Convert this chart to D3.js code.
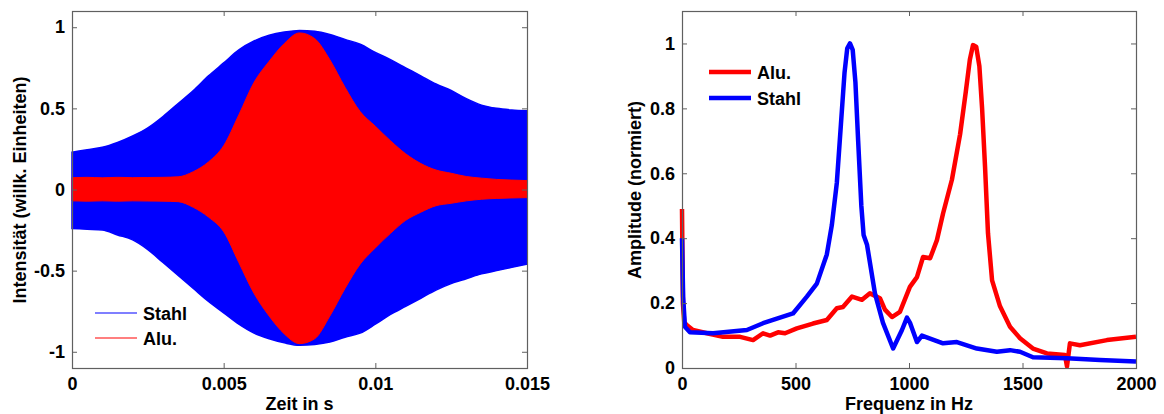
<!DOCTYPE html>
<html>
<head>
<meta charset="utf-8">
<script src="https://cdn.jsdelivr.net/npm/d3@7"></script>
<style>
  body { margin: 0; background: #fff; }
  svg text { font-family: "Liberation Sans", Arial, sans-serif; font-weight: bold; }
</style>
</head>
<body>
<div id="chart"></div>
<script>
// --- left: signal envelopes (time in s, upper / lower amplitude), read every 0.5 ms
var envT       = [0, 0.0005, 0.001, 0.0015, 0.002, 0.0025, 0.003, 0.0035, 0.004, 0.0045, 0.005, 0.0055, 0.006, 0.0065, 0.007, 0.0075, 0.008, 0.0085, 0.009, 0.0095, 0.01, 0.0105, 0.011, 0.0115, 0.012, 0.0125, 0.013, 0.0135, 0.014, 0.0145, 0.015];
var stahlUpper = [0.23, 0.245, 0.26, 0.29, 0.33, 0.38, 0.45, 0.53, 0.61, 0.70, 0.78, 0.86, 0.915, 0.95, 0.97, 0.98, 0.975, 0.955, 0.925, 0.895, 0.845, 0.80, 0.75, 0.70, 0.65, 0.61, 0.56, 0.52, 0.50, 0.49, 0.485];
var stahlLower = [-0.24, -0.245, -0.25, -0.28, -0.31, -0.37, -0.45, -0.53, -0.61, -0.69, -0.76, -0.83, -0.885, -0.92, -0.945, -0.96, -0.955, -0.94, -0.91, -0.885, -0.83, -0.77, -0.72, -0.67, -0.62, -0.58, -0.55, -0.52, -0.50, -0.48, -0.46];
var aluUpper   = [0.073, 0.075, 0.072, 0.075, 0.073, 0.074, 0.075, 0.078, 0.11, 0.17, 0.27, 0.46, 0.66, 0.79, 0.90, 0.965, 0.93, 0.80, 0.63, 0.48, 0.39, 0.30, 0.22, 0.16, 0.12, 0.10, 0.08, 0.07, 0.062, 0.058, 0.055];
var aluLower   = [-0.07, -0.072, -0.07, -0.072, -0.07, -0.071, -0.072, -0.075, -0.11, -0.17, -0.26, -0.45, -0.64, -0.78, -0.89, -0.95, -0.92, -0.78, -0.61, -0.46, -0.36, -0.27, -0.19, -0.14, -0.10, -0.085, -0.07, -0.06, -0.055, -0.052, -0.05];

// --- right: spectra (Hz, normalised amplitude)
var aluF   = [0, 4, 10, 22, 48, 110, 181, 256, 313, 357, 388, 423, 454, 506, 577, 638, 682, 709, 749, 793, 828, 872, 894, 925, 960, 1004, 1035, 1062, 1093, 1123, 1150, 1189, 1225, 1250, 1268, 1282, 1296, 1310, 1322, 1335, 1348, 1366, 1401, 1445, 1489, 1546, 1608, 1687, 1696, 1709, 1753, 1872, 2000];
var aluA   = [0.49, 0.2, 0.14, 0.132, 0.117, 0.107, 0.096, 0.096, 0.086, 0.107, 0.10, 0.11, 0.107, 0.122, 0.137, 0.148, 0.184, 0.188, 0.22, 0.21, 0.23, 0.215, 0.18, 0.157, 0.173, 0.25, 0.28, 0.342, 0.338, 0.394, 0.476, 0.58, 0.72, 0.85, 0.95, 0.995, 0.99, 0.93, 0.80, 0.62, 0.415, 0.27, 0.19, 0.127, 0.092, 0.06, 0.045, 0.04, 0.005, 0.076, 0.07, 0.086, 0.096];
var stahlF = [0, 5, 13, 35, 137, 286, 357, 489, 550, 594, 638, 660, 682, 700, 716, 728, 740, 752, 764, 776, 790, 800, 815, 850, 885, 930, 969, 991, 1004, 1035, 1057, 1150, 1211, 1299, 1387, 1445, 1489, 1546, 1696, 1841, 2000];
var stahlA = [0.40, 0.22, 0.127, 0.11, 0.107, 0.117, 0.138, 0.168, 0.22, 0.26, 0.35, 0.44, 0.57, 0.75, 0.91, 0.985, 1.0, 0.98, 0.88, 0.70, 0.50, 0.41, 0.38, 0.23, 0.14, 0.06, 0.117, 0.155, 0.14, 0.08, 0.10, 0.076, 0.08, 0.06, 0.05, 0.055, 0.05, 0.033, 0.03, 0.025, 0.02];

var leftXTicks  = [0, 0.005, 0.01, 0.015];
var leftXLabels = ['0', '0.005', '0.01', '0.015'];
var leftYTicks  = [-1, -0.5, 0, 0.5, 1];
var leftYLabels = ['-1', '-0.5', '0', '0.5', '1'];
var rightXTicks = [0, 500, 1000, 1500, 2000];
var rightYTicks = [0, 0.2, 0.4, 0.6, 0.8, 1];
var rightYLabels = ['0', '0.2', '0.4', '0.6', '0.8', '1'];

var RED = '#ff0000', BLUE = '#0000ff', AXIS = '#606060';

var svg = d3.select('#chart').append('svg')
    .attr('width', 1164)
    .attr('height', 414);

function zip3(t, u, l) {
    return t.map(function (d, i) { return { t: d, u: u[i], l: l[i] }; });
}
function zip2(x, y) {
    return x.map(function (d, i) { return { x: d, y: y[i] }; });
}

// draw a MATLAB-like box with inward ticks on all four sides
function box(g, x, y, xTicks, xLabels, yTicks, yLabels) {
    var x0 = x.range()[0], x1 = x.range()[1], y0 = y.range()[0], y1 = y.range()[1];
    var fx = function (d) { return xLabels[xTicks.indexOf(d)]; };
    var fy = function (d) { return yLabels[yTicks.indexOf(d)]; };

    var axes = [
        g.append('g').attr('transform', 'translate(0,' + y0 + ')')
            .call(d3.axisBottom(x).tickValues(xTicks).tickFormat(fx).tickSizeInner(-5).tickSizeOuter(0).tickPadding(9)),
        g.append('g').attr('transform', 'translate(' + x0 + ',0)')
            .call(d3.axisLeft(y).tickValues(yTicks).tickFormat(fy).tickSizeInner(-5).tickSizeOuter(0).tickPadding(7)),
        g.append('g').attr('transform', 'translate(0,' + y1 + ')')
            .call(d3.axisTop(x).tickValues(xTicks).tickFormat('').tickSizeInner(-5).tickSizeOuter(0)),
        g.append('g').attr('transform', 'translate(' + x1 + ',0)')
            .call(d3.axisRight(y).tickValues(yTicks).tickFormat('').tickSizeInner(-5).tickSizeOuter(0))
    ];
    axes.forEach(function (a) {
        a.select('.domain').remove();
        a.selectAll('line').attr('stroke', AXIS);
        a.selectAll('text').attr('fill', '#000').style('font-size', '18px');
    });
    g.append('rect')
        .attr('x', x0 + 0.5).attr('y', y1 + 0.5)
        .attr('width', x1 - x0).attr('height', y0 - y1)
        .attr('fill', 'none').attr('stroke', AXIS).attr('stroke-width', 1.2);
}

// ---------- left chart
var gl = svg.append('g');
var xl = d3.scaleLinear().domain([0, 0.015]).range([72, 527]);
var yl = d3.scaleLinear().domain([-1.1, 1.1]).range([368, 11]);

var band = d3.area()
    .x(function (d) { return xl(d.t); })
    .y0(function (d) { return yl(d.l); })
    .y1(function (d) { return yl(d.u); })
    .curve(d3.curveMonotoneX);

gl.append('path').datum(zip3(envT, stahlUpper, stahlLower))
    .attr('d', band).attr('fill', BLUE).attr('stroke', BLUE).attr('stroke-width', 1.5);
gl.append('path').datum(zip3(envT, aluUpper, aluLower))
    .attr('d', band).attr('fill', RED).attr('stroke', RED).attr('stroke-width', 1);

box(gl, xl, yl, leftXTicks, leftXLabels, leftYTicks, leftYLabels);

var legL = [{ name: 'Stahl', c: BLUE }, { name: 'Alu.', c: RED }];
legL.forEach(function (d, i) {
    var yy = 313 + i * 25;
    gl.append('line').attr('x1', 95).attr('x2', 137).attr('y1', yy).attr('y2', yy)
        .attr('stroke', d.c).attr('stroke-width', 1.2);
    gl.append('text').attr('x', 143).attr('y', yy + 6.5).style('font-size', '18px').text(d.name);
});

gl.append('text').attr('x', 299.5).attr('y', 410).attr('text-anchor', 'middle')
    .style('font-size', '18px').text('Zeit in s');
gl.append('text').attr('transform', 'translate(26,190) rotate(-90)').attr('text-anchor', 'middle')
    .style('font-size', '18px').text('Intensität (willk. Einheiten)');

// ---------- right chart
var gr = svg.append('g');
var xr = d3.scaleLinear().domain([0, 2000]).range([682, 1136]);
var yr = d3.scaleLinear().domain([0, 1.1]).range([368, 11]);

var line = d3.line()
    .x(function (d) { return xr(d.x); })
    .y(function (d) { return yr(d.y); });

gr.append('path').datum(zip2(aluF, aluA))
    .attr('d', line).attr('fill', 'none').attr('stroke', RED).attr('stroke-width', 4.5).attr('stroke-linejoin', 'round');
gr.append('path').datum(zip2(stahlF, stahlA))
    .attr('d', line).attr('fill', 'none').attr('stroke', BLUE).attr('stroke-width', 4.5).attr('stroke-linejoin', 'round');

box(gr, xr, yr, rightXTicks, rightXTicks.map(String), rightYTicks, rightYLabels);

var legR = [{ name: 'Alu.', c: RED }, { name: 'Stahl', c: BLUE }];
legR.forEach(function (d, i) {
    var yy = 72 + i * 26;
    gr.append('line').attr('x1', 709).attr('x2', 751).attr('y1', yy).attr('y2', yy)
        .attr('stroke', d.c).attr('stroke-width', 4.5);
    gr.append('text').attr('x', 757).attr('y', yy + 6.5).style('font-size', '18px').text(d.name);
});

gr.append('text').attr('x', 909).attr('y', 410).attr('text-anchor', 'middle')
    .style('font-size', '18px').text('Frequenz in Hz');
gr.append('text').attr('transform', 'translate(641,190) rotate(-90)').attr('text-anchor', 'middle')
    .style('font-size', '18px').text('Amplitude (normiert)');
</script>
</body>
</html>
